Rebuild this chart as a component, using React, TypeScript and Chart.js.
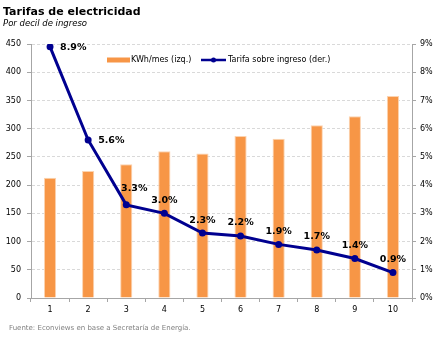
import React, { useEffect, useRef } from "react";
import { Chart, registerables } from "chart.js";

Chart.register(...registerables);

const categories = ["1", "2", "3", "4", "5", "6", "7", "8", "9", "10"];
const kwhValues = [213, 225, 237, 260, 256, 287, 282, 306, 322, 358];
const tarifaValues = [8.9, 5.6, 3.3, 3.0, 2.3, 2.2, 1.9, 1.7, 1.4, 0.9];
const kwhLabel = "KWh/mes (izq.)";
const tarifaLabel = "Tarifa sobre ingreso (der.)";
const title = "Tarifas de electricidad";
const subtitle = "Por decil de ingreso";
const source = "Fuente: Econviews en base a Secretaría de Energía.";

const ORANGE = "#F79646";
const NAVY = "#000090";
const AXIS = "#a6a6a6";
const FONT = "'DejaVu Sans', Verdana, sans-serif";

const textPlugin = {
  id: "customText",
  afterDatasetsDraw(chart: any) {
    const ctx = chart.ctx as CanvasRenderingContext2D;
    ctx.save();
    const meta = chart.getDatasetMeta(1);
    ctx.font = `bold 9.5px ${FONT}`;
    ctx.fillStyle = "#000";
    ctx.textBaseline = "middle";
    meta.data.forEach((pt: any, i: number) => {
      const txt = tarifaValues[i].toFixed(1) + "%";
      if (i < 2) {
        ctx.textAlign = "left";
        ctx.fillText(txt, pt.x + 10, pt.y + 1);
      } else {
        ctx.textAlign = "center";
        const prev = meta.data[i - 1];
        const steep = prev && pt.y - prev.y > 30;
        ctx.fillText(txt, pt.x + (steep ? 8 : 0), pt.y - (steep ? 16 : 13));
      }
    });
    ctx.restore();
  },
  afterDraw(chart: any) {
    const ctx = chart.ctx as CanvasRenderingContext2D;
    ctx.save();
    ctx.fillStyle = "#000";
    ctx.textAlign = "left";
    ctx.textBaseline = "alphabetic";
    ctx.font = `bold 11px ${FONT}`;
    ctx.fillText(title, 3, 15);
    ctx.font = `italic 8.5px ${FONT}`;
    ctx.fillText(subtitle, 3, 26);
    ctx.fillStyle = "#808080";
    ctx.font = `7px ${FONT}`;
    ctx.fillText(source, 9, 330);
    const ly = 60;
    ctx.fillStyle = ORANGE;
    ctx.fillRect(107, ly - 2.5, 23, 5);
    ctx.fillStyle = "#000";
    ctx.font = `8px ${FONT}`;
    ctx.textBaseline = "middle";
    ctx.fillText(kwhLabel, 131, ly);
    ctx.strokeStyle = NAVY;
    ctx.lineWidth = 2.5;
    ctx.beginPath();
    ctx.moveTo(201, ly);
    ctx.lineTo(226, ly);
    ctx.stroke();
    ctx.fillStyle = NAVY;
    ctx.beginPath();
    ctx.arc(213.5, ly, 2.5, 0, Math.PI * 2);
    ctx.fill();
    ctx.fillStyle = "#000";
    ctx.fillText(tarifaLabel, 228, ly);
    ctx.restore();
  },
};

export default function App() {
  const ref = useRef<HTMLCanvasElement | null>(null);
  useEffect(() => {
    if (!ref.current) return;
    const chart = new Chart(ref.current, {
      type: "bar",
      data: {
        labels: categories,
        datasets: [
          {
            type: "bar",
            label: kwhLabel,
            data: kwhValues,
            backgroundColor: ORANGE,
            borderColor: "#FCD3B0",
            borderWidth: 1,
            barPercentage: 0.32,
            categoryPercentage: 1,
            yAxisID: "y",
            order: 1,
          },
          {
            type: "line",
            label: tarifaLabel,
            data: tarifaValues,
            borderColor: NAVY,
            backgroundColor: NAVY,
            borderWidth: 3,
            pointRadius: 3.5,
            pointBackgroundColor: NAVY,
            pointBorderWidth: 0,
            tension: 0,
            yAxisID: "y1",
            order: 0,
          },
        ],
      } as any,
      options: {
        animation: false,
        responsive: false,
        maintainAspectRatio: false,
        layout: { padding: { top: 44, left: 0, right: 0, bottom: 0 } },
        plugins: {
          legend: { display: false },
          title: { display: false },
          tooltip: { enabled: false },
        },
        scales: {
          x: {
            offset: true,
            grid: {
              offset: true,
              drawOnChartArea: false,
              drawTicks: true,
              tickLength: 4,
              color: AXIS,
            },
            border: { display: true, color: AXIS, width: 1 },
            ticks: {
              color: "#000",
              font: { family: FONT, size: 8 },
              padding: 3,
              maxRotation: 0,
            },
            afterFit: (s: any) => {
              s.height = 42;
            },
          },
          y: {
            position: "left",
            min: 0,
            max: 450,
            grid: {
              color: "#d9d9d9",
              drawTicks: true,
              tickLength: 4,
              tickColor: AXIS,
            },
            border: { display: true, color: AXIS, width: 1, dash: [3, 2] },
            ticks: {
              stepSize: 50,
              color: "#000",
              font: { family: FONT, size: 8 },
              padding: 6,
            },
            afterFit: (s: any) => {
              s.width = 31;
            },
          },
          y1: {
            position: "right",
            min: 0,
            max: 9,
            grid: {
              drawOnChartArea: false,
              drawTicks: true,
              tickLength: 4,
              color: AXIS,
            },
            border: { display: true, color: AXIS, width: 1 },
            ticks: {
              stepSize: 1,
              color: "#000",
              font: { family: FONT, size: 8 },
              padding: 4,
              callback: (v: any) => v + "%",
            },
            afterFit: (s: any) => {
              s.width = 31;
            },
          },
        },
      } as any,
      plugins: [textPlugin],
    });
    return () => chart.destroy();
  }, []);
  return (
    <div
      style={{
        position: "absolute",
        left: 0,
        top: 0,
        width: 443,
        height: 340,
        background: "#fff",
      }}
    >
      <canvas ref={ref} width={443} height={340} style={{ width: 443, height: 340 }} />
    </div>
  );
}
